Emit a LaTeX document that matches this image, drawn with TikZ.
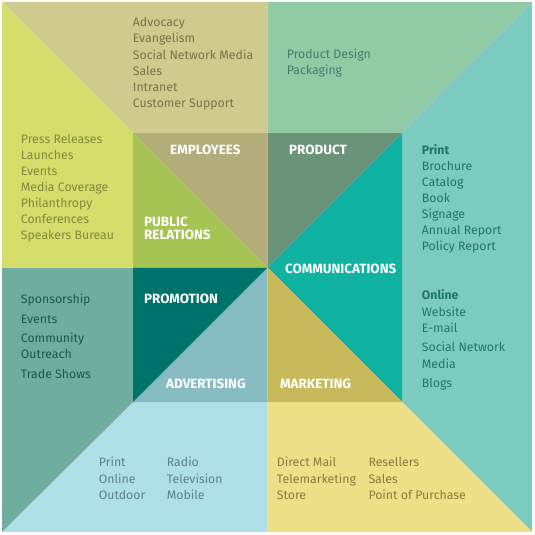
\documentclass[tikz,border=0pt]{standalone}
\usepackage{fontspec}
\setmainfont{Fira Sans}
\usepackage{tikz}
\usetikzlibrary{positioning}
\usepackage{xcolor}

% region fills (outer ring / inner square)
\definecolor{empout}{HTML}{CFCA8E}
\definecolor{empin}{HTML}{B3AC7B}
\definecolor{prout}{HTML}{D5DD6B}
\definecolor{prin}{HTML}{A6C453}
\definecolor{prodout}{HTML}{93CAA6}
\definecolor{prodin}{HTML}{6A9379}
\definecolor{comout}{HTML}{7BCCBF}
\definecolor{comin}{HTML}{10B3A1}
\definecolor{mktout}{HTML}{EDE086}
\definecolor{mktin}{HTML}{C8BA5B}
\definecolor{advout}{HTML}{B0E0E7}
\definecolor{advin}{HTML}{87BCC2}
\definecolor{proout}{HTML}{6FAD9F}
\definecolor{proin}{HTML}{00726C}
% text colours
\definecolor{emptxt}{HTML}{7A7248}
\definecolor{prtxt}{HTML}{7E8B3D}
\definecolor{prodtxt}{HTML}{3E7D70}
\definecolor{comtxt}{HTML}{1E766A}
\definecolor{protxt}{HTML}{1E5650}
\definecolor{advtxt}{HTML}{5D7F8C}
\definecolor{mkttxt}{HTML}{8A7C3E}

\begin{document}
\begin{tikzpicture}[x=1pt, y=-1pt,
  every node/.style={font=\fontsize{12.3}{16.2}\selectfont, inner sep=0pt, anchor=base west},
  head/.style={font=\fontsize{13.4}{12.7}\selectfont\bfseries, text=white}]

\useasboundingbox (0,0) rectangle (535,535);

% corners of the outer and inner squares
\coordinate (A) at (2,2);     \coordinate (B) at (532,2);
\coordinate (C) at (532,532); \coordinate (D) at (2,532);
\coordinate (a) at (133,133); \coordinate (b) at (402,133);
\coordinate (c) at (402,402); \coordinate (d) at (133,402);
\coordinate (M) at (267.5,267.5);

% Outer ring
\fill[empout]  (A) -- (267.5,2) -- (267.5,133) -- (a) -- cycle;
\fill[prodout] (267.5,2) -- (B) -- (b) -- (267.5,133) -- cycle;
\fill[comout]  (B) -- (C) -- (c) -- (b) -- cycle;
\fill[mktout]  (267.5,402) -- (c) -- (C) -- (267.5,532) -- cycle;
\fill[advout]  (d) -- (267.5,402) -- (267.5,532) -- (D) -- cycle;
\fill[proout]  (2,267.5) -- (133,267.5) -- (d) -- (D) -- cycle;
\fill[prout]   (A) -- (a) -- (133,267.5) -- (2,267.5) -- cycle;

% Inner square
\fill[empin]  (a) -- (267.5,133) -- (M) -- cycle;
\fill[prin]   (a) -- (M) -- (133,267.5) -- cycle;
\fill[prodin] (267.5,133) -- (b) -- (M) -- cycle;
\fill[comin]  (b) -- (c) -- (M) -- cycle;
\fill[mktin]  (M) -- (c) -- (267.5,402) -- cycle;
\fill[advin]  (M) -- (267.5,402) -- (d) -- cycle;
\fill[proin]  (133,267.5) -- (M) -- (d) -- cycle;

% Headings
\node[head] (employees) at (170,154.3) {EMPLOYEES};
\node[head] (product) at (289,154.3) {PRODUCT};
\node[head, align=left, anchor=north west] (pr) at (144,217) {PUBLIC\\RELATIONS};
\node[head] (communications) at (285,273.3) {COMMUNICATIONS};
\node[head] (promotion) at (144,303.3) {PROMOTION};
\node[head] (advertising) at (166,388.3) {ADVERTISING};
\node[head] (marketing) at (280,388.3) {MARKETING};

% Lists
\foreach \t [count=\i] in {Advocacy, Evangelism, Social Network Media, Sales, Intranet, Customer Support}
  \node[text=emptxt] (emp\i) at (132.7, 10.5+16.2*\i) {\t};
\foreach \t [count=\i] in {Product Design, Packaging}
  \node[text=prodtxt] (prod\i) at (286.7, 42.5+15.8*\i) {\t};
\foreach \t [count=\i] in {Press Releases, Launches, Events, Media Coverage, Philanthropy, Conferences, Speakers Bureau}
  \node[text=prtxt] (pr\i) at (20.7, 127.2+16.1*\i) {\t};
\node[text=comtxt, font=\fontsize{12.3}{16.2}\selectfont\bfseries] (print) at (421.7,154.3) {Print};
\foreach \t [count=\i] in {Brochure, Catalog, Book, Signage, Annual Report, Policy Report}
  \node[text=comtxt] (print\i) at (421.7, 154.3+16.1*\i) {\t};
\node[text=comtxt, font=\fontsize{12.3}{16.2}\selectfont\bfseries] (online) at (421.7,299.3) {Online};
\foreach \t/\y [count=\i] in {Website/316.7, E-mail/332.7, Social Network/351.7, Media/368.3, Blogs/387.3}
  \node[text=comtxt] (online\i) at (421.7,\y) {\t};
\foreach \t/\y [count=\i] in {Sponsorship/303.3, Events/323.3, Community/342.3, Outreach/358.3, Trade Shows/378.3}
  \node[text=protxt] (pro\i) at (20.7,\y) {\t};
\foreach \t/\u [count=\i] in {Print/Radio, Online/Television, Outdoor/Mobile}{
  \node[text=advtxt] (adv\i) at (98.7, 450+16.6*\i) {\t};
  \node[text=advtxt] (advb\i) at (166.7, 450+16.6*\i) {\u};
}
\foreach \t/\u [count=\i] in {Direct Mail/Resellers, Telemarketing/Sales, Store/Point of Purchase}{
  \node[text=mkttxt] (mkt\i) at (276.7, 450+16.6*\i) {\t};
  \node[text=mkttxt] (mktb\i) at (368.3, 450+16.6*\i) {\u};
}

\end{tikzpicture}
\end{document}
